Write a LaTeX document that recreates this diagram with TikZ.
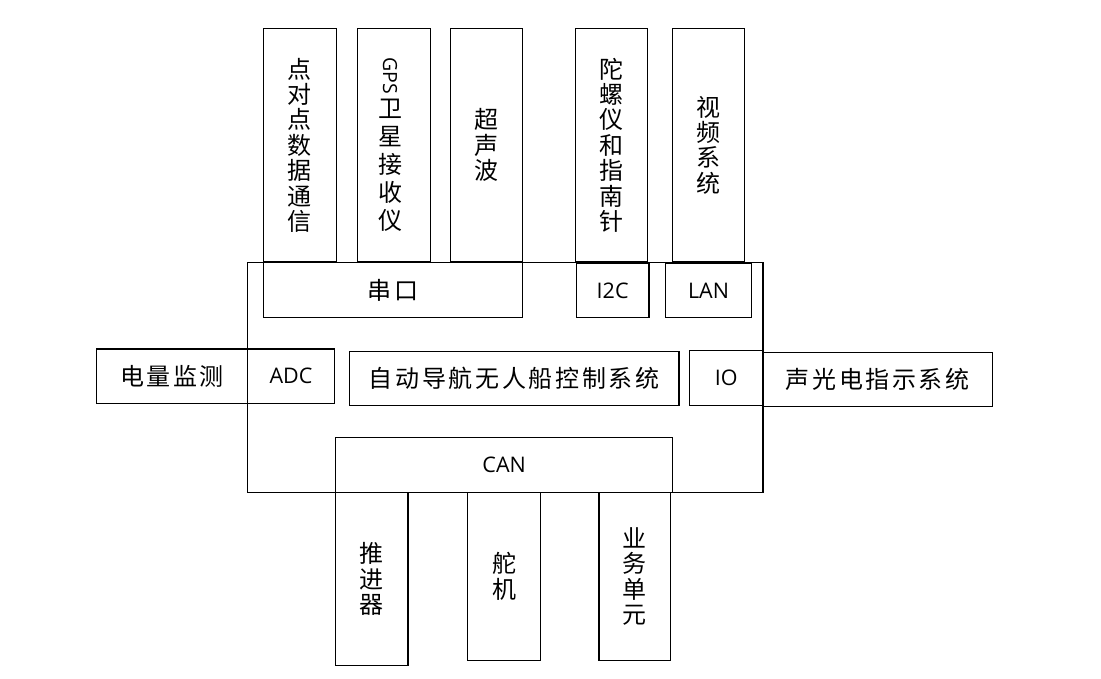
\documentclass[tikz,border=0pt]{standalone}
\usepackage{fontspec}
\setmainfont{Open Sans}
\newfontfamily\cjk{Noto Sans CJK SC}
\newfontfamily\cjkls{Noto Sans CJK SC}[LetterSpace=11]
\begin{document}
\begin{tikzpicture}[x=1pt,y=-1pt,
  box/.style={draw=black, line width=1.3pt, anchor=north west, inner sep=0pt},
  vtext/.style={font=\cjk\fontsize{24}{25.4}\selectfont, align=center},
  vtextwide/.style={font=\cjk\fontsize{24}{28}\selectfont, align=center, inner sep=0pt},
  htext/.style={font=\cjkls\fontsize{24}{26}\selectfont},
  ltext/.style={font=\fontsize{21.5}{24}\selectfont}]
\useasboundingbox (0,0) rectangle (1101,679);
% main controller frame
\node[box, minimum width=515.6pt, minimum height=230pt] (main) at (246.7,261.7) {};
% top peripherals
\node[box, vtext, minimum width=72.5pt, minimum height=233pt] (p2p) at (263,28) {点\\对\\点\\数\\据\\通\\信};
\node[box, minimum width=73pt, minimum height=233pt] (gps) at (357,28) {};
\node[rotate=-90, inner sep=0pt, font=\fontsize{19.5}{22}\selectfont] (gpsl) at (390,75.5) {GPS};
\node[vtextwide] (gpst) at (390.5,165.5) {卫\\星\\接\\收\\仪};
\node[box, vtext, minimum width=72pt, minimum height=233pt] (sonar) at (449.5,28) {超\\声\\波};
\node[box, vtext, minimum width=72pt, minimum height=233pt] (gyro) at (574.5,28) {陀\\螺\\仪\\和\\指\\南\\针};
\node[box, vtext, minimum width=72pt, minimum height=233pt] (video) at (671.5,28) {视\\频\\系\\统};
% interfaces
\node[box, htext, minimum width=258.7pt, minimum height=55pt] (serial) at (263,262) {串口};
\node[box, ltext, minimum width=72.6pt, minimum height=54pt] (i2c) at (575.7,262.7) {I2C};
\node[box, ltext, minimum width=85.7pt, minimum height=54pt] (lan) at (665,262.7) {LAN};
\node[box, htext, minimum width=150.7pt, minimum height=54.4pt] (power) at (96,348.3) {电量监测};
\node[box, ltext, minimum width=87.3pt, minimum height=54.4pt] (adc) at (246.7,348.3) {ADC};
\node[box, htext, minimum width=329.6pt, minimum height=54.3pt] (ctrl) at (348.7,350.7) {自动导航无人船控制系统};
\node[box, ltext, minimum width=73.3pt, minimum height=55pt] (io) at (689,350) {IO};
\node[box, htext, minimum width=229.4pt, minimum height=54.3pt] (light) at (762.3,351.7) {声光电指示系统};
\node[box, ltext, minimum width=337pt, minimum height=55pt] (can) at (335,436.7) {CAN};
% bottom actuators
\node[box, vtext, minimum width=72.3pt, minimum height=173.3pt] (thruster) at (335,491.7) {推\\进\\器};
\node[box, vtext, minimum width=73.3pt, minimum height=168.3pt] (rudder) at (466.7,491.7) {舵\\机};
\node[box, vtext, minimum width=71.7pt, minimum height=168.3pt] (biz) at (598.3,491.7) {业\\务\\单\\元};
\end{tikzpicture}
\end{document}
